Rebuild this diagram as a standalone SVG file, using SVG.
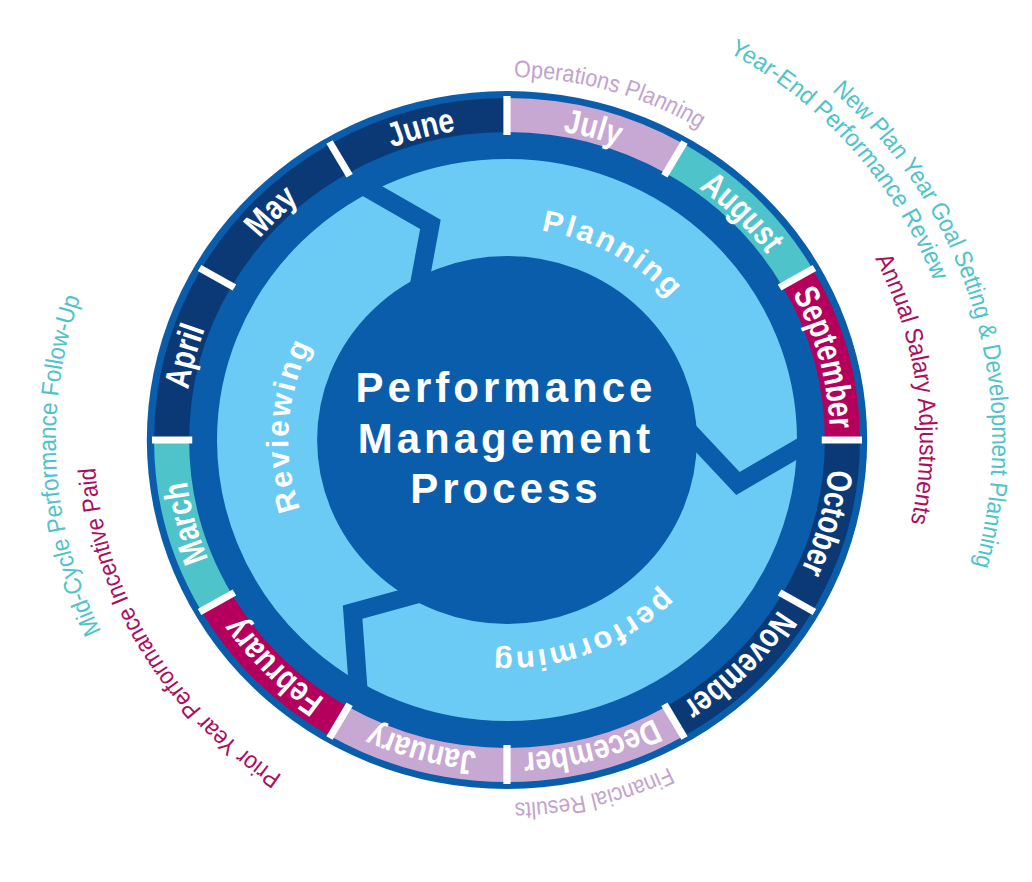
<svg xmlns="http://www.w3.org/2000/svg" xmlns:xlink="http://www.w3.org/1999/xlink" width="1032" height="882" viewBox="0 0 1032 882">
<style>
.seg{fill:none;stroke-width:34}
.navy{stroke:#0b3975}.lav{stroke:#c6a8d3}.teal{stroke:#4ec4ca}.mag{stroke:#b4005c}
.div{stroke:#ffffff;stroke-width:7}
.gap{fill:none;stroke:#0a5dab;stroke-width:18;stroke-linejoin:miter;stroke-miterlimit:10}
.mtxt{font-family:'Liberation Sans Narrow','Liberation Sans',Arial,sans-serif;font-weight:bold;font-size:34px;fill:#ffffff}
.atxt{font-family:'Liberation Sans',Arial,sans-serif;font-weight:bold;font-size:30px;fill:#ffffff;letter-spacing:2.5px}
.otxt{font-family:'Liberation Sans Narrow','Liberation Sans',Arial,sans-serif;font-size:24px}
.ctxt{font-family:'Liberation Sans',Arial,sans-serif;font-weight:bold;font-size:42px;fill:#ffffff;letter-spacing:4px}
</style>
<defs>
<path id="c313" d="M0,-313 A313,313 0 1,1 0,313 A313,313 0 1,1 0,-313"/>
<path id="c212" d="M0,-212 A212,212 0 1,1 0,212 A212,212 0 1,1 0,-212"/>
<path id="c363" d="M0,-363 A363,363 0 1,1 0,363 A363,363 0 1,1 0,-363"/>
<path id="c443" d="M0,-443 A443,443 0 1,1 0,443 A443,443 0 1,1 0,-443"/>
<path id="c470" d="M0,-470 A470,470 0 1,1 0,470 A470,470 0 1,1 0,-470"/>
<path id="c400" d="M0,-400 A400,400 0 1,1 0,400 A400,400 0 1,1 0,-400"/>
<path id="c437" d="M0,-437 A437,437 0 1,1 0,437 A437,437 0 1,1 0,-437"/>
</defs>
<rect width="1032" height="882" fill="#ffffff"/>
<g transform="translate(507,440) scale(1.032,1)">
  <g id="wheel-base">
    <circle r="349" fill="#0a5dab"/>
  </g>
  <g id="months">
    <g id="july"><path class="seg lav" d="M0,-325 A325,325 0 0,1 162.5,-281.46"/>
      <text class="mtxt"><textPath xlink:href="#c313" href="#c313" startOffset="4.1667%" text-anchor="middle" textLength="55" lengthAdjust="spacingAndGlyphs">July</textPath></text></g>
    <g id="august"><path class="seg teal" d="M162.5,-281.46 A325,325 0 0,1 281.46,-162.5"/>
      <text class="mtxt"><textPath xlink:href="#c313" href="#c313" startOffset="12.5%" text-anchor="middle" textLength="94" lengthAdjust="spacingAndGlyphs">August</textPath></text></g>
    <g id="september"><path class="seg mag" d="M281.46,-162.5 A325,325 0 0,1 325,0"/>
      <text class="mtxt"><textPath xlink:href="#c313" href="#c313" startOffset="20.833%" text-anchor="middle" textLength="141" lengthAdjust="spacingAndGlyphs">September</textPath></text></g>
    <g id="october"><path class="seg navy" d="M325,0 A325,325 0 0,1 281.46,162.5"/>
      <text class="mtxt"><textPath xlink:href="#c313" href="#c313" startOffset="29.167%" text-anchor="middle" textLength="105" lengthAdjust="spacingAndGlyphs">October</textPath></text></g>
    <g id="november"><path class="seg navy" d="M281.46,162.5 A325,325 0 0,1 162.5,281.46"/>
      <text class="mtxt"><textPath xlink:href="#c313" href="#c313" startOffset="37.5%" text-anchor="middle" textLength="133" lengthAdjust="spacingAndGlyphs">November</textPath></text></g>
    <g id="december"><path class="seg lav" d="M162.5,281.46 A325,325 0 0,1 0,325"/>
      <text class="mtxt"><textPath xlink:href="#c313" href="#c313" startOffset="45.833%" text-anchor="middle" textLength="132" lengthAdjust="spacingAndGlyphs">December</textPath></text></g>
    <g id="january"><path class="seg lav" d="M0,325 A325,325 0 0,1 -162.5,281.46"/>
      <text class="mtxt"><textPath xlink:href="#c313" href="#c313" startOffset="54.167%" text-anchor="middle" textLength="105" lengthAdjust="spacingAndGlyphs">January</textPath></text></g>
    <g id="february"><path class="seg mag" d="M-162.5,281.46 A325,325 0 0,1 -281.46,162.5"/>
      <text class="mtxt"><textPath xlink:href="#c313" href="#c313" startOffset="62.5%" text-anchor="middle" textLength="117" lengthAdjust="spacingAndGlyphs">February</textPath></text></g>
    <g id="march"><path class="seg teal" d="M-281.46,162.5 A325,325 0 0,1 -325,0"/>
      <text class="mtxt"><textPath xlink:href="#c313" href="#c313" startOffset="70.833%" text-anchor="middle" textLength="81" lengthAdjust="spacingAndGlyphs">March</textPath></text></g>
    <g id="april"><path class="seg navy" d="M-325,0 A325,325 0 0,1 -281.46,-162.5"/>
      <text class="mtxt"><textPath xlink:href="#c313" href="#c313" startOffset="79.167%" text-anchor="middle" textLength="63" lengthAdjust="spacingAndGlyphs">April</textPath></text></g>
    <g id="may"><path class="seg navy" d="M-281.46,-162.5 A325,325 0 0,1 -162.5,-281.46"/>
      <text class="mtxt"><textPath xlink:href="#c313" href="#c313" startOffset="87.5%" text-anchor="middle" textLength="54" lengthAdjust="spacingAndGlyphs">May</textPath></text></g>
    <g id="june"><path class="seg navy" d="M-162.5,-281.46 A325,325 0 0,1 0,-325"/>
      <text class="mtxt"><textPath xlink:href="#c313" href="#c313" startOffset="95.833%" text-anchor="middle" textLength="64" lengthAdjust="spacingAndGlyphs">June</textPath></text></g>
    <g id="month-dividers">
      <line class="div" x1="0" y1="-305" x2="0" y2="-344" transform="rotate(0)"/>
      <line class="div" x1="0" y1="-305" x2="0" y2="-344" transform="rotate(30)"/>
      <line class="div" x1="0" y1="-305" x2="0" y2="-344" transform="rotate(60)"/>
      <line class="div" x1="0" y1="-305" x2="0" y2="-344" transform="rotate(90)"/>
      <line class="div" x1="0" y1="-305" x2="0" y2="-344" transform="rotate(120)"/>
      <line class="div" x1="0" y1="-305" x2="0" y2="-344" transform="rotate(150)"/>
      <line class="div" x1="0" y1="-305" x2="0" y2="-344" transform="rotate(180)"/>
      <line class="div" x1="0" y1="-305" x2="0" y2="-344" transform="rotate(210)"/>
      <line class="div" x1="0" y1="-305" x2="0" y2="-344" transform="rotate(240)"/>
      <line class="div" x1="0" y1="-305" x2="0" y2="-344" transform="rotate(270)"/>
      <line class="div" x1="0" y1="-305" x2="0" y2="-344" transform="rotate(300)"/>
      <line class="div" x1="0" y1="-305" x2="0" y2="-344" transform="rotate(330)"/>
    </g>
  </g>
  <g id="cycle-arrows">
    <circle r="232.5" fill="none" stroke="#6ccbf4" stroke-width="97"/>
    <g id="connectors">
      <polyline class="gap" points="-141.6,-255.4 -74.2,-215.6 -85.3,-153.9"/>
      <polyline class="gap" points="291.99,2.55 223.8,43.5 175.8,-9.2"/>
      <polyline class="gap" points="-143.8,254.2 -149.6,172.1 -85.3,153.9"/>
    </g>
    <g id="planning"><text class="atxt"><textPath xlink:href="#c212" href="#c212" startOffset="8%" text-anchor="middle">Planning</textPath></text></g>
    <g id="performing"><text class="atxt"><textPath xlink:href="#c212" href="#c212" startOffset="44.25%" text-anchor="middle">performing</textPath></text></g>
    <g id="reviewing"><text class="atxt"><textPath xlink:href="#c212" href="#c212" startOffset="76.11%" text-anchor="middle">Reviewing</textPath></text></g>
  </g>
  <g id="outer-labels">
    <g id="operations-planning"><text class="otxt" fill="#c2a2ce"><textPath xlink:href="#c363" href="#c363" startOffset="4.44%" text-anchor="middle" textLength="189" lengthAdjust="spacingAndGlyphs">Operations Planning</textPath></text></g>
    <g id="financial-results"><text class="otxt" fill="#c2a2ce"><textPath xlink:href="#c363" href="#c363" startOffset="46.28%" text-anchor="middle" textLength="155" lengthAdjust="spacingAndGlyphs">Financial Results</textPath></text></g>
    <g id="year-end-review"><text class="otxt" fill="#4fc3c9"><textPath xlink:href="#c443" href="#c443" startOffset="13.61%" text-anchor="middle" textLength="309" lengthAdjust="spacingAndGlyphs">Year-End Performance Review</textPath></text></g>
    <g id="new-plan-year"><text class="otxt" fill="#4fc3c9"><textPath xlink:href="#c470" href="#c470" startOffset="20.49%" text-anchor="middle" textLength="521" lengthAdjust="spacingAndGlyphs">New Plan Year Goal Setting &amp; Development Planning</textPath></text></g>
    <g id="annual-salary"><text class="otxt" fill="#ac0d5c"><textPath xlink:href="#c400" href="#c400" startOffset="22.92%" text-anchor="middle" textLength="272" lengthAdjust="spacingAndGlyphs">Annual Salary Adjustments</textPath></text></g>
    <g id="mid-cycle"><text class="otxt" fill="#4fc3c9"><textPath xlink:href="#c437" href="#c437" startOffset="74.03%" text-anchor="middle" textLength="343" lengthAdjust="spacingAndGlyphs">Mid-Cycle Performance Follow-Up</textPath></text></g>
    <g id="prior-year"><text class="otxt" fill="#ac0d5c"><textPath xlink:href="#c400" href="#c400" startOffset="66.53%" text-anchor="middle" textLength="370" lengthAdjust="spacingAndGlyphs">Prior Year Performance Incentive Paid</textPath></text></g>
  </g>
</g>
<g id="center-label">
  <text class="ctxt" text-anchor="middle" x="506" y="402">Performance</text>
  <text class="ctxt" text-anchor="middle" x="506" y="453">Management</text>
  <text class="ctxt" text-anchor="middle" x="506" y="503">Process</text>
</g>
</svg>
